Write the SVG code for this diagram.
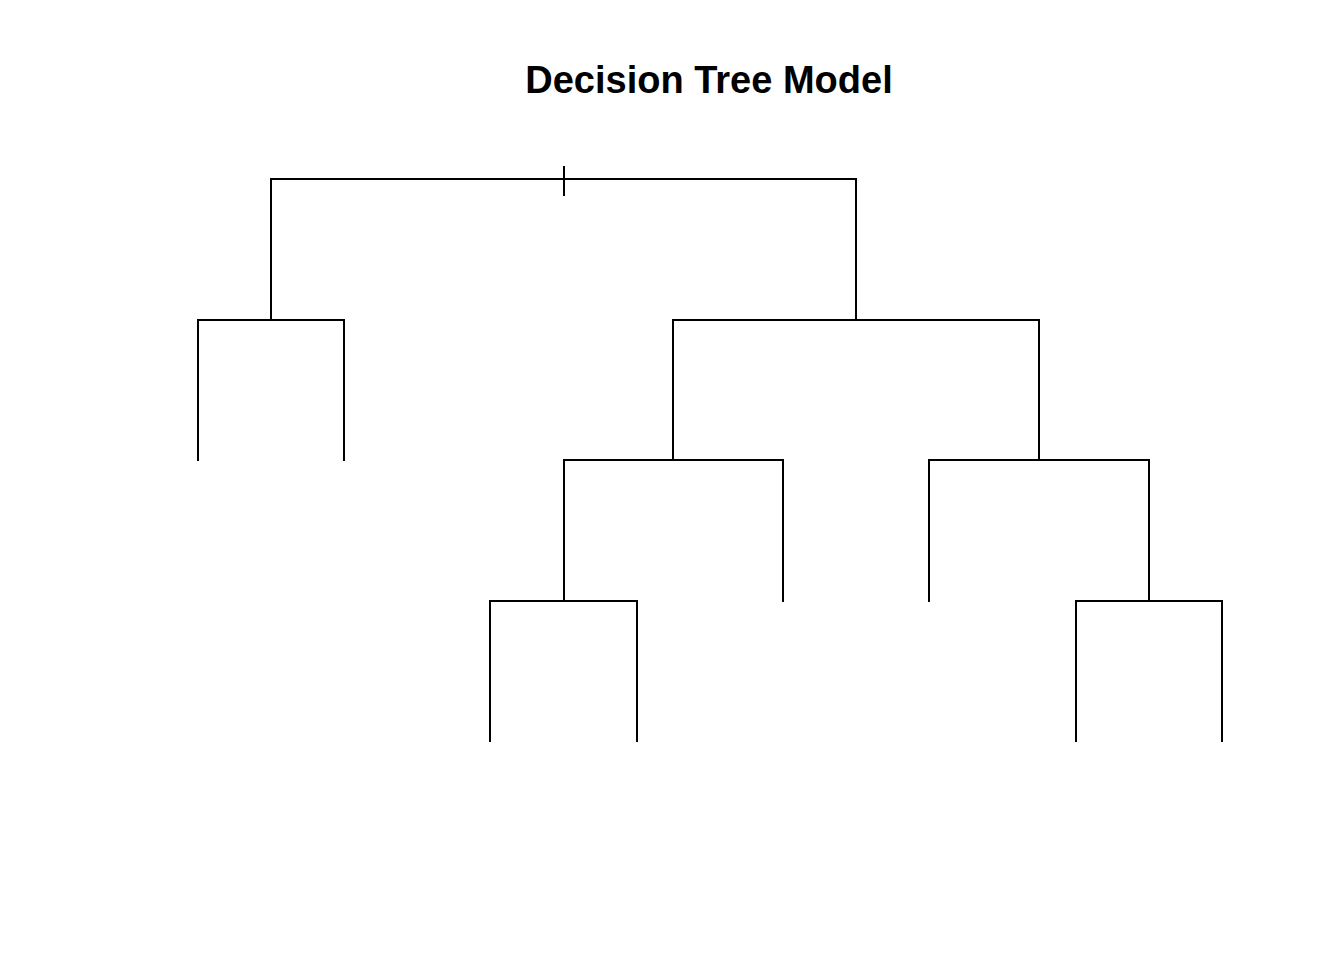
<svg xmlns="http://www.w3.org/2000/svg" width="1344" height="960" viewBox="0 0 1344 960">
<style>
.e{fill:none;stroke:#000;stroke-width:2;stroke-linecap:butt}
.t{font-family:"Liberation Sans",Arial,sans-serif;font-weight:bold;font-size:38px;fill:#000}
</style>
<rect width="1344" height="960" fill="#fff"/>
<text class="t" x="709" y="93" text-anchor="middle">Decision Tree Model</text>
<g id="connectors">
<path class="e" d="M564 166V196"/>
<path class="e" d="M271 320V179H856V320"/>
<path class="e" d="M198 461V320H344V461"/>
<path class="e" d="M673 460V320H1039V460"/>
<path class="e" d="M564 601V460H783V602"/>
<path class="e" d="M929 602V460H1149V601"/>
<path class="e" d="M490 742V601H637V742"/>
<path class="e" d="M1076 742V601H1222V742"/>
</g>
</svg>
